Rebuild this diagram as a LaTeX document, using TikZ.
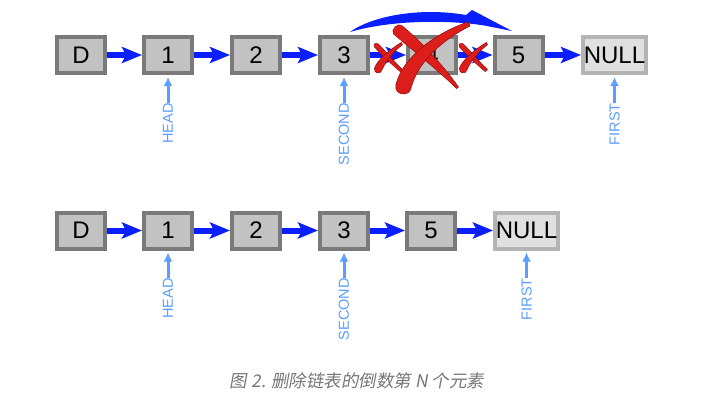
\documentclass[tikz,border=0pt]{standalone}
\usepackage{fontspec}
\setmainfont{Liberation Sans}
\newfontfamily\cjk[FakeSlant=0.18]{Noto Sans CJK SC}
\usetikzlibrary{arrows.meta}
\definecolor{boxfill}{HTML}{C2C2C2}
\definecolor{boxedge}{HTML}{7A7A7A}
\definecolor{nullfill}{HTML}{E0E0E0}
\definecolor{nulledge}{HTML}{B4B4B4}
\definecolor{linkblue}{HTML}{0A1EFF}
\definecolor{lblblue}{HTML}{5C9DFF}
\definecolor{xred}{HTML}{DC1E1A}
\definecolor{xdark}{HTML}{9A0A0A}
\definecolor{capgray}{HTML}{777777}
\tikzset{
  listbox/.style={draw=boxedge, fill=boxfill, line width=4pt, minimum width=48pt,
    minimum height=36pt, inner sep=0pt, font=\fontsize{24}{24}\selectfont},
  nullbox/.style={listbox, draw=nulledge, fill=nullfill, minimum width=63pt},
  link/.style={draw=linkblue, line width=6pt, -{Stealth[length=20pt,width=16pt,inset=4pt]}},
  ptrlbl/.style={text=lblblue, rotate=90, anchor=east, inner sep=0pt,
    font=\fontsize{14.5}{14.5}\selectfont},
  ptr/.style={draw=lblblue, line width=3pt, -{Latex[length=9pt,width=9pt]}, shorten >=2pt},
  xmark/.style={fill=xred, draw=xdark, line width=0.5pt},
  smallx/.pic={
    \begin{scope}[scale=1.12]
    \filldraw[xmark] (-10,-12) .. controls (0,-2) and (5,5) .. (12,11) -- (10,13)
      .. controls (3,7) and (-5,0) .. (-13,-9) .. controls (-14,-12) and (-12,-13) .. (-10,-12) -- cycle;
    \filldraw[xmark] (11,-13) .. controls (0,-6) and (-10,2) .. (-13,10)
      .. controls (-14,15) and (-7,16) .. (-6,11) .. controls (-3,4) and (4,-5) .. (12,-11) -- cycle;
    \end{scope}
  }
}
\begin{document}
\begin{tikzpicture}[x=1pt,y=-1pt]
\useasboundingbox (0,0) rectangle (708,410);
\fill[white] (0,0) rectangle (708,410);
% top row
\node[listbox] (tD) at (81,55) {D};
\node[listbox] (t1) at (168,55) {1};
\node[listbox] (t2) at (256,55) {2};
\node[listbox] (t3) at (344,55) {3};
\node[listbox] (t4) at (432,55) {4};
\node[listbox] (t5) at (518.5,55) {5};
\node[nullbox] (tN) at (614.5,55) {NULL};
\draw[link] (tD) -- (t1);
\draw[link] (t1) -- (t2);
\draw[link] (t2) -- (t3);
\draw[link] (t3) -- (t4);
\draw[link] (t4) -- (t5);
\draw[link] (t5) -- (tN);
\node[ptrlbl] (tHead) at (168,103) {HEAD};
\node[ptrlbl] (tSecond) at (344,103) {SECOND};
\node[ptrlbl] (tFirst) at (614.5,103) {FIRST};
\draw[ptr] (tHead.east) -- (t1.south);
\draw[ptr] (tSecond.east) -- (t3.south);
\draw[ptr] (tFirst.east) -- (tN.south);
% swoosh
\fill[linkblue] (350,32) .. controls (372,16) and (420,7) .. (466,15) -- (472,10) -- (512,31)
  -- (487,26) .. controls (460,21) and (398,18) .. (350,32) -- cycle;
% crosses
\pic at (389,57) {smallx};
\pic at (474,57) {smallx};
\filldraw[xmark] (402,25.7) .. controls (425,45) and (445,68) .. (458.5,87) -- (456.5,88.5)
  .. controls (440,72) and (415,52) .. (393.8,34.3) .. controls (390,30) and (398,22) .. (402,25.7) -- cycle;
\filldraw[xmark] (468,22) .. controls (438,32) and (404,55) .. (396,84)
  .. controls (393,96) and (410,97) .. (411,88) .. controls (418,62) and (442,40) .. (470,26) -- cycle;
% bottom row
\node[listbox] (bD) at (81,230.5) {D};
\node[listbox] (b1) at (168,230.5) {1};
\node[listbox] (b2) at (256,230.5) {2};
\node[listbox] (b3) at (344,230.5) {3};
\node[listbox] (b5) at (431,230.5) {5};
\node[nullbox] (bN) at (526.5,230.5) {NULL};
\draw[link] (bD) -- (b1);
\draw[link] (b1) -- (b2);
\draw[link] (b2) -- (b3);
\draw[link] (b3) -- (b5);
\draw[link] (b5) -- (bN);
\node[ptrlbl] (bHead) at (168,278) {HEAD};
\node[ptrlbl] (bSecond) at (344,278) {SECOND};
\node[ptrlbl] (bFirst) at (526.5,278) {FIRST};
\draw[ptr] (bHead.east) -- (b1.south);
\draw[ptr] (bSecond.east) -- (b3.south);
\draw[ptr] (bFirst.east) -- (bN.south);
% caption
\node[text=capgray, font=\cjk\fontsize{17.5}{20}\selectfont] (cap) at (357,381) {图 2. 删除链表的倒数第 N 个元素};
\end{tikzpicture}
\end{document}
